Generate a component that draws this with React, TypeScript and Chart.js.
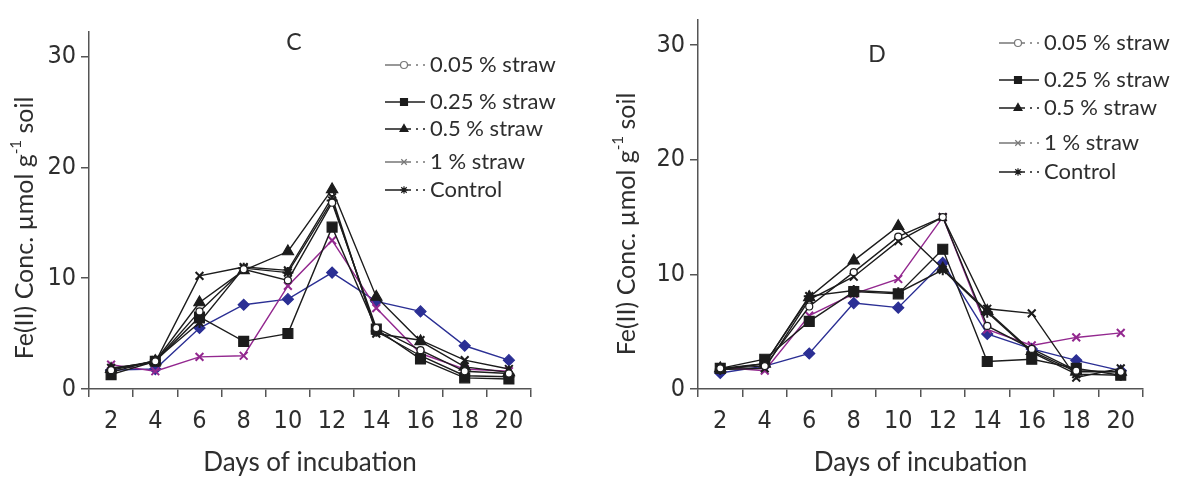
import React, { useEffect, useRef } from 'react';
import { Chart, registerables } from 'chart.js';
import { drawPoint } from 'chart.js/helpers';

Chart.register(...registerables);

const days = ['2', '4', '6', '8', '10', '12', '14', '16', '18', '20'];
const yTickValues = [0, 10, 20, 30];
const legendLabels = ['0.05 % straw', '0.25 % straw', '0.5 % straw', '1 % straw', 'Control'];

// Panel C
const c005 = [1.7, 2.5, 7.0, 10.8, 9.8, 16.8, 5.5, 3.5, 1.6, 1.4];
const c025 = [1.3, 2.5, 6.5, 4.3, 5.0, 14.6, 5.4, 2.7, 1.0, 0.9];
const c05 = [1.8, 2.5, 7.8, 10.7, 12.4, 18.0, 8.3, 4.3, 2.0, 1.5];
const c1 = [1.9, 2.4, 10.2, 11.0, 10.7, 17.3, 5.0, 4.4, 2.6, 1.8];
const cControl = [1.5, 2.6, 6.0, 10.9, 10.5, 17.0, 5.2, 3.0, 1.2, 1.1];
const cBlue = [1.7, 1.8, 5.5, 7.6, 8.1, 10.5, 7.9, 7.0, 3.9, 2.6];
const cPurple = [2.2, 1.6, 2.9, 3.0, 9.3, 13.4, 7.3, 3.2, 1.8, 1.6];

// Panel D
const d005 = [1.8, 2.0, 7.2, 10.2, 13.3, 15.0, 5.5, 3.5, 1.6, 1.5];
const d025 = [1.8, 2.6, 5.9, 8.5, 8.3, 12.2, 2.4, 2.6, 1.8, 1.2];
const d05 = [1.8, 2.2, 8.0, 11.2, 14.2, 10.5, 6.8, 3.3, 1.5, 1.5];
const d1 = [1.7, 1.8, 7.8, 9.8, 12.9, 15.0, 7.0, 6.6, 1.0, 1.8];
const dControl = [1.7, 2.2, 8.1, 8.6, 8.4, 10.4, 6.7, 3.2, 1.3, 1.2];
const dBlue = [1.4, 2.0, 3.1, 7.5, 7.1, 11.0, 4.8, 3.5, 2.5, 1.6];
const dPurple = [1.9, 1.6, 6.4, 8.3, 9.6, 15.0, 5.2, 3.8, 4.5, 4.9];

const BLACK = '#1c1c1c';
const BLUE = '#2b2f94';
const PURPLE = '#93288f';
const TEXT = '#2e2e2e';
const AXIS = '#555555';

type Style = { pointStyle: string; radius: number; bg: string; border: string; line: string; legendLine: string };

const styles: Style[] = [
  { pointStyle: 'circle', radius: 3.5, bg: '#ffffff', border: BLACK, line: BLACK, legendLine: '#777' },
  { pointStyle: 'rect', radius: 7, bg: BLACK, border: BLACK, line: BLACK, legendLine: BLACK },
  { pointStyle: 'triangle', radius: 6.5, bg: BLACK, border: BLACK, line: BLACK, legendLine: BLACK },
  { pointStyle: 'crossRot', radius: 5.5, bg: BLACK, border: BLACK, line: BLACK, legendLine: '#777' },
  { pointStyle: 'star', radius: 5.5, bg: BLACK, border: BLACK, line: BLACK, legendLine: BLACK },
];
const blueStyle: Style = { pointStyle: 'rectRot', radius: 5.5, bg: BLUE, border: BLUE, line: BLUE, legendLine: BLUE };
const purpleStyle: Style = { pointStyle: 'crossRot', radius: 5.5, bg: PURPLE, border: PURPLE, line: PURPLE, legendLine: PURPLE };

type Geo = {
  left: number;
  yAxisWidth: number;
  rightPad: number;
  topPad: number;
  xAxisHeight: number;
  letter: string;
  letterX: number;
  letterY: number;
  legendX: number;
  legendRows: number[];
  yTitleX: number;
  yTitleY: number;
};

function makeDataset(label: string, data: number[], s: Style, order: number) {
  return {
    label,
    data,
    borderColor: s.line,
    backgroundColor: s.bg,
    pointStyle: s.pointStyle,
    pointRadius: s.radius,
    pointBackgroundColor: s.bg,
    pointBorderColor: s.border,
    pointBorderWidth: s.pointStyle === 'crossRot' || s.pointStyle === 'star' ? 2 : 1.2,
    borderWidth: 1.4,
    tension: 0,
    fill: false,
    order,
  };
}

function overlayPlugin(g: Geo) {
  return {
    id: 'overlay' + g.letter,
    afterDraw(chart: any) {
      const ctx: CanvasRenderingContext2D = chart.ctx;
      ctx.save();
      // panel letter
      ctx.fillStyle = TEXT;
      ctx.font = '23px Lato';
      ctx.textAlign = 'center';
      ctx.textBaseline = 'middle';
      ctx.fillText(g.letter, g.letterX, g.letterY);

      // legend
      legendLabels.forEach((lab, i) => {
        const s = styles[i];
        const y = g.legendRows[i];
        const x0 = g.legendX;
        ctx.strokeStyle = s.legendLine;
        ctx.lineWidth = 1.5;
        ctx.beginPath();
        if (i === 1) {
          ctx.moveTo(x0, y);
          ctx.lineTo(x0 + 40, y);
        } else {
          ctx.moveTo(x0, y);
          ctx.lineTo(x0 + 26, y);
          ctx.moveTo(x0 + 31, y);
          ctx.lineTo(x0 + 33, y);
          ctx.moveTo(x0 + 38, y);
          ctx.lineTo(x0 + 40, y);
        }
        ctx.stroke();
        ctx.fillStyle = i === 0 ? '#ffffff' : s.legendLine;
        ctx.strokeStyle = s.legendLine;
        ctx.lineWidth = 1.2;
        const r = i === 0 ? 3.5 : s.radius * 0.7;
        drawPoint(ctx, { pointStyle: s.pointStyle as any, radius: r, borderWidth: 1.2, rotation: 0 } as any, x0 + 19, y);
        ctx.fillStyle = TEXT;
        ctx.font = '22px Lato';
        ctx.textAlign = 'left';
        ctx.textBaseline = 'middle';
        ctx.fillText(lab, x0 + 45, y);
      });

      // y-axis title with superscript
      ctx.translate(g.yTitleX, g.yTitleY);
      ctx.rotate(-Math.PI / 2);
      const p1 = 'Fe(II) Conc. \u00b5mol g';
      const sup = '-1';
      const p2 = ' soil';
      ctx.font = '25px Lato';
      const w1 = ctx.measureText(p1).width;
      const w3 = ctx.measureText(p2).width;
      ctx.font = '15px Lato';
      const w2 = ctx.measureText(sup).width;
      const total = w1 + w2 + w3;
      let x = -total / 2;
      ctx.fillStyle = TEXT;
      ctx.textAlign = 'left';
      ctx.textBaseline = 'middle';
      ctx.font = '25px Lato';
      ctx.fillText(p1, x, 0);
      x += w1;
      ctx.font = '15px Lato';
      ctx.fillText(sup, x, -9);
      x += w2;
      ctx.font = '25px Lato';
      ctx.fillText(p2, x, 0);
      ctx.restore();
    },
  };
}

function Panel({ series, geo }: { series: number[][]; geo: Geo }) {
  const ref = useRef<HTMLCanvasElement | null>(null);
  useEffect(() => {
    if (!ref.current) return;
    const datasets: any[] = [];
    datasets.push(makeDataset('blue', series[5], blueStyle, 6));
    datasets.push(makeDataset('purple', series[6], purpleStyle, 5));
    for (let i = 0; i < 5; i++) datasets.push(makeDataset(legendLabels[i], series[i], styles[i], i));
    const tickFont = { family: "'Liberation Sans Narrow', 'DejaVu Sans Condensed', sans-serif", size: 25 };
    const chart = new Chart(ref.current, {
      type: 'line',
      data: { labels: days, datasets },
      options: {
        responsive: false,
        animation: false,
        layout: { padding: { left: 0, right: geo.rightPad, top: geo.topPad, bottom: 0 } },
        plugins: { legend: { display: false }, tooltip: { enabled: false } },
        scales: {
          x: {
            type: 'category',
            offset: true,
            grid: { display: true, offset: true, drawOnChartArea: false, drawTicks: true, tickLength: 8, color: AXIS, lineWidth: 1.5 },
            border: { display: true, color: AXIS, width: 1.5 },
            ticks: { autoSkip: false, maxRotation: 0, color: TEXT, font: tickFont, padding: 9 },
            title: { display: true, text: 'Days of incubation', color: TEXT, font: { family: 'Lato', size: 26 }, padding: { top: 0, bottom: 0 } },
            afterFit: (s: any) => { s.height = geo.xAxisHeight; },
          },
          y: {
            min: 0,
            max: 32.2,
            grid: { display: true, drawOnChartArea: false, drawTicks: true, tickLength: 8, color: AXIS, lineWidth: 1.5 },
            border: { display: true, color: AXIS, width: 1.5 },
            ticks: { stepSize: 10, color: TEXT, font: tickFont, padding: 5 },
            afterBuildTicks: (s: any) => {
              s.ticks = yTickValues.map((v) => ({ value: v }));
            },
            afterFit: (s: any) => { s.width = geo.yAxisWidth; },
          },
        },
      },
      plugins: [overlayPlugin(geo)],
    } as any);
    return () => chart.destroy();
  }, []);
  return (
    <canvas
      ref={ref}
      width={590}
      height={478}
      style={{ position: 'absolute', left: geo.left, top: 0, width: 590, height: 478 }}
    />
  );
}

const geoC: Geo = {
  left: 0,
  yAxisWidth: 89,
  rightPad: 59,
  topPad: 32,
  xAxisHeight: 89,
  letter: 'C',
  letterX: 294,
  letterY: 43,
  legendX: 385,
  legendRows: [65, 102, 129, 162, 190],
  yTitleX: 25,
  yTitleY: 228,
};

const geoD: Geo = {
  left: 590,
  yAxisWidth: 108,
  rightPad: 37,
  topPad: 13,
  xAxisHeight: 89,
  letter: 'D',
  letterX: 287,
  letterY: 55,
  legendX: 409,
  legendRows: [43, 80, 108, 143, 172],
  yTitleX: 37,
  yTitleY: 224,
};

export default function App() {
  return (
    <div style={{ position: 'absolute', left: 0, top: 0, width: 1180, height: 478, background: '#fff' }}>
      <Panel series={[c005, c025, c05, c1, cControl, cBlue, cPurple]} geo={geoC} />
      <Panel series={[d005, d025, d05, d1, dControl, dBlue, dPurple]} geo={geoD} />
    </div>
  );
}
